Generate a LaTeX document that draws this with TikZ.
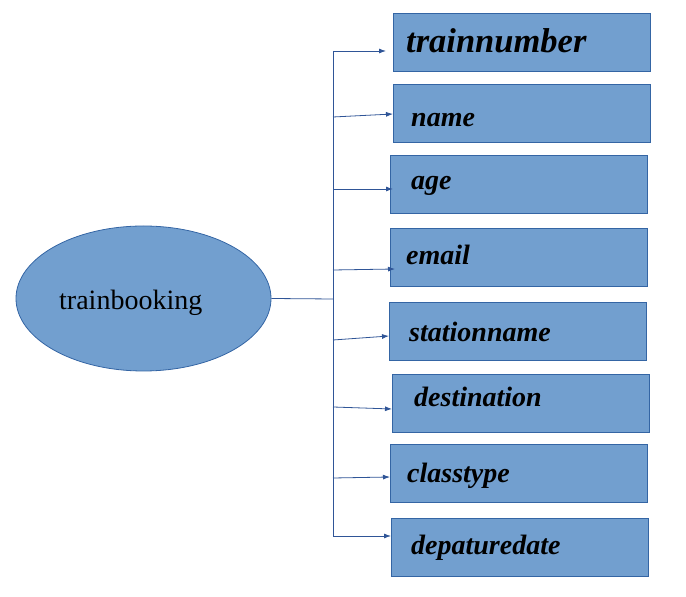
\documentclass[tikz,border=0pt]{standalone}
\usepackage{fontspec}
\setmainfont{Liberation Serif}
\usetikzlibrary{shapes.geometric,arrows.meta}
\definecolor{boxfill}{RGB}{114,159,207}
\definecolor{boxdraw}{RGB}{52,101,164}
\definecolor{linec}{RGB}{47,85,151}
\tikzset{
  attrbox/.style={draw=boxdraw, line width=0.8pt, fill=boxfill, minimum width=257pt, minimum height=58pt, inner sep=0pt},
  attrtext/.style={anchor=base west, inner sep=0pt, font=\fontsize{28}{31}\selectfont\bfseries\itshape},
  conn/.style={draw=linec, line width=0.8pt},
  arr/.style={conn, -{Latex[length=7pt,width=5pt]}}
}
\begin{document}
\begin{tikzpicture}[x=1pt,y=1pt]
\useasboundingbox (0,0) rectangle (686,597);
% entity
\node[ellipse, draw=boxdraw, line width=0.8pt, fill=boxfill, minimum width=255pt, minimum height=145pt, inner sep=0pt] (tb) at (143.5,298.5) {};
\node[anchor=base west, inner sep=0pt, font=\fontsize{28}{31}\selectfont] (tbt) at (59,287) {trainbooking};
% boxes
\node[attrbox] (b1) at (521.5,555) {};
\node[attrbox] (b2) at (521.5,484) {};
\node[attrbox] (b3) at (518.5,413) {};
\node[attrbox] (b4) at (518.5,340) {};
\node[attrbox] (b5) at (517.5,266) {};
\node[attrbox] (b6) at (520.5,194) {};
\node[attrbox] (b7) at (518.5,124) {};
\node[attrbox] (b8) at (519.5,50) {};
% texts
\node[attrtext, font=\fontsize{34.5}{37}\selectfont\bfseries\itshape] (t1) at (406,544) {trainnumber};
\node[attrtext] (t2) at (411,470) {name};
\node[attrtext] (t3) at (411,407) {age};
\node[attrtext] (t4) at (406,332) {email};
\node[attrtext] (t5) at (409,255) {stationname};
\node[attrtext] (t6) at (414,190) {destination};
\node[attrtext] (t7) at (407,114) {classtype};
\node[attrtext] (t8) at (411,42) {depaturedate};
% trunk coordinates
\coordinate (j) at (333,298);
\coordinate (s1) at (333,546);
\coordinate (s2) at (333,480);
\coordinate (s3) at (333,408);
\coordinate (s4) at (333,327);
\coordinate (s5) at (333,257);
\coordinate (s6) at (333,190);
\coordinate (s7) at (333,119);
\coordinate (s8) at (333,61);
% arrow ends
\coordinate (e1) at (386,546);
\coordinate (e2) at (393,483);
\coordinate (e3) at (393,408);
\coordinate (e4) at (395,328);
\coordinate (e5) at (389,261);
\coordinate (e6) at (392,188);
\coordinate (e7) at (390,120);
\coordinate (e8) at (391,61);
% connectors
\draw[conn] (tb.east) -- (j);
\draw[conn] (s1) -- (s8);
\draw[arr] (s1) -- (e1);
\draw[arr] (s2) -- (e2);
\draw[arr] (s3) -- (e3);
\draw[arr] (s4) -- (e4);
\draw[arr] (s5) -- (e5);
\draw[arr] (s6) -- (e6);
\draw[arr] (s7) -- (e7);
\draw[arr] (s8) -- (e8);
\end{tikzpicture}
\end{document}
